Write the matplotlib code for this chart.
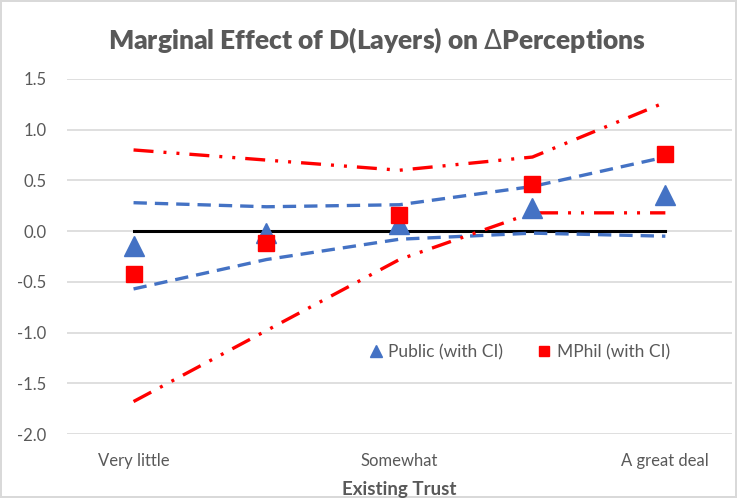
import matplotlib.pyplot as plt

plt.rcParams['font.family'] = ['Lato', 'DejaVu Sans']

# data
positions = [1, 2, 3, 4, 5]
tick_labels = ["Very little", "", "Somewhat", "", "A great deal"]

public = [-0.15, -0.02, 0.07, 0.23, 0.36]
public_hi = [0.28, 0.24, 0.26, 0.44, 0.73]
public_lo = [-0.57, -0.28, -0.08, -0.02, -0.05]

mphil = [-0.42, -0.12, 0.16, 0.46, 0.76]
mphil_hi = [0.80, 0.70, 0.60, 0.73, 1.27]
mphil_lo = [-1.68, -0.98, -0.28, 0.18, 0.18]

zero = [0, 0, 0, 0, 0]

BLUE = "#4472C4"
RED = "#FF0000"
GRAY = "#595959"


def plot_chart():
    fig = plt.figure(figsize=(7.37, 4.98), dpi=100)
    fig.patch.set_edgecolor("#d9d9d9")
    fig.patch.set_linewidth(1.5)
    ax = fig.add_axes([0.091, 0.1285, 0.902, 0.713])

    ax.plot(positions, zero, color="black", lw=2.2, zorder=2)

    ax.plot(positions, public_hi, color=BLUE, lw=2.4, dashes=(4.0, 2.4), zorder=3)
    ax.plot(positions, public_lo, color=BLUE, lw=2.4, dashes=(4.0, 2.4), zorder=3)
    dd = (6, 3, 0.9, 3, 0.9, 3)
    ax.plot(positions, mphil_hi, color=RED, lw=2.4, dashes=dd, zorder=3)
    ax.plot(positions, mphil_lo, color=RED, lw=2.4, dashes=dd, zorder=3)

    ax.plot(positions, public, ls="none", marker="^", ms=14, color=BLUE,
            label="Public (with CI)", zorder=4)
    ax.plot(positions, mphil, ls="none", marker="s", ms=11.5, color=RED,
            label="MPhil (with CI)", zorder=5)

    ax.set_xlim(0.5, 5.5)
    ax.set_ylim(-2.0, 1.5)
    ax.set_yticks([-2.0, -1.5, -1.0, -0.5, 0.0, 0.5, 1.0, 1.5])
    ax.set_yticklabels([f"{v:.1f}" for v in ax.get_yticks()])
    ax.set_xticks(positions)
    ax.set_xticklabels(tick_labels)
    ax.tick_params(length=0, labelsize=12, labelcolor=GRAY)
    ax.tick_params(axis="y", pad=15)
    ax.tick_params(axis="x", pad=14)
    ax.grid(axis="y", color="#d9d9d9", lw=1.2)
    ax.set_axisbelow(True)
    for s in ax.spines.values():
        s.set_visible(False)

    ax.set_xlabel("Existing Trust", fontsize=13.5, fontweight="bold", color=GRAY, labelpad=8)
    fig.text(0.512, 0.92, "Marginal Effect of D(Layers) on $\\mathit{\\Delta}$Perceptions",
             ha="center", va="center", fontsize=19, fontweight="heavy", color=GRAY)

    ax.legend(loc="center", bbox_to_anchor=(0.68, 0.23), ncol=2, frameon=False,
              fontsize=12.5, labelcolor=GRAY, markerscale=0.6, handlelength=0.8,
              handletextpad=0.3, columnspacing=2.0)

    fig.savefig("out.png", dpi=100)


if __name__ == "__main__":
    plot_chart()
